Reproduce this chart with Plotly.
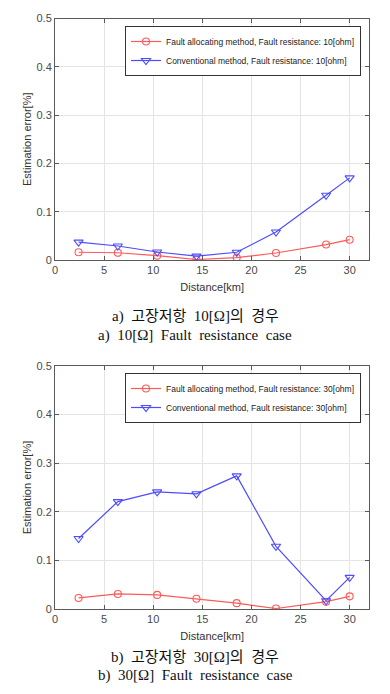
import plotly.graph_objects as go

distance = [2.4, 6.4, 10.4, 14.4, 18.5, 22.5, 27.6, 30.0]

fa_10 = [0.016, 0.015, 0.009, 0.001, 0.005, 0.0145, 0.032, 0.042]
conv_10 = [0.037, 0.029, 0.0166, 0.008, 0.016, 0.058, 0.134, 0.170]

fa_30 = [0.0227, 0.031, 0.029, 0.021, 0.012, 0.001, 0.015, 0.026]
conv_30 = [0.145, 0.221, 0.241, 0.237, 0.274, 0.129, 0.017, 0.065]

x_ticks = [0, 5, 10, 15, 20, 25, 30]
y_ticks = [0, 0.1, 0.2, 0.3, 0.4, 0.5]
y_tick_text = ["0", "0.1", "0.2", "0.3", "0.4", "0.5"]

names_10 = ["Fault allocating method, Fault resistance: 10[ohm]",
            "Conventional method, Fault resistance: 10[ohm]"]
names_30 = ["Fault allocating method, Fault resistance: 30[ohm]",
            "Conventional method, Fault resistance: 30[ohm]"]

captions = [
    ("a)  고장저항  10[Ω]의  경우", "a)  10[Ω]  Fault  resistance  case"),
    ("b)  고장저항  30[Ω]의  경우", "b)  30[Ω]  Fault  resistance  case"),
]

RED = "#ff5a5a"
BLUE = "#4d4dff"
# page body has an 8px margin; figure sized to fit inside the 390x694 window
OFF = 8
W, H = 374, 678

def px_x(p):
    return (p - OFF) / W

def px_y(p):
    return 1 - (p - OFF) / H

fig = go.Figure()

def add_pair(fa, conv, names, xa, ya, leg):
    fig.add_trace(go.Scatter(x=distance, y=fa, name=names[0], mode="lines+markers",
                             line=dict(color=RED, width=1.2),
                             marker=dict(symbol="circle-open", size=7, color=RED, line=dict(width=1.1)),
                             xaxis=xa, yaxis=ya, legend=leg))
    fig.add_trace(go.Scatter(x=distance, y=conv, name=names[1], mode="lines+markers",
                             line=dict(color=BLUE, width=1.2),
                             marker=dict(symbol="triangle-down-open", size=8, color=BLUE, line=dict(width=1.1)),
                             xaxis=xa, yaxis=ya, legend=leg))

add_pair(fa_10, conv_10, names_10, "x", "y", "legend")
add_pair(fa_30, conv_30, names_30, "x2", "y2", "legend2")

x_dom = [px_x(55), px_x(369.3)]
top_dom = [px_y(260), px_y(18.5)]
bot_dom = [px_y(609), px_y(366)]

axis_common = dict(
    showline=True, linecolor="#5a5a5a", linewidth=1, mirror="ticks",
    ticks="inside", ticklen=4, tickcolor="#5a5a5a",
    showgrid=True, gridcolor="#e4e4e4", gridwidth=1,
    zeroline=False, automargin=False,
    tickfont=dict(family="Liberation Sans, Arial", size=11, color="#4a4a4a"),
)

xcommon = dict(axis_common, range=[0, 32], tickvals=x_ticks, domain=x_dom,
               title=dict(text="Distance[km]", standoff=8,
                          font=dict(family="Liberation Sans, Arial", size=11, color="#333333")))
ycommon = dict(axis_common, range=[0, 0.5], tickvals=y_ticks, ticktext=y_tick_text,
               title=dict(text="Estimation error[%]", standoff=2,
                          font=dict(family="Liberation Sans, Arial", size=11, color="#333333")))

leg_font = dict(family="Liberation Sans, Arial", size=8.5, color="#222222")

fig.update_layout(
    width=W, height=H,
    margin=dict(l=0, r=0, t=0, b=0),
    paper_bgcolor="white", plot_bgcolor="white",
    xaxis=dict(xcommon, anchor="y"),
    yaxis=dict(ycommon, domain=top_dom, anchor="x"),
    xaxis2=dict(xcommon, anchor="y2"),
    yaxis2=dict(ycommon, domain=bot_dom, anchor="x2"),
    legend=dict(x=px_x(361), y=px_y(26), xanchor="right", yanchor="top",
                bgcolor="white", bordercolor="#333333", borderwidth=1,
                font=leg_font, itemwidth=30, tracegroupgap=0),
    legend2=dict(x=px_x(361), y=px_y(373), xanchor="right", yanchor="top",
                 bgcolor="white", bordercolor="#333333", borderwidth=1,
                 font=leg_font, itemwidth=30, tracegroupgap=0),
    showlegend=True,
)

cap_font = dict(family="Liberation Serif, Noto Sans CJK KR", size=15, color="#111111")
for (l1, l2), (y1, y2) in zip(captions, [(316, 336), (657, 675)]):
    fig.add_annotation(text=l1, x=0.5, y=px_y(y1), xref="paper", yref="paper",
                       showarrow=False, font=cap_font, xanchor="center", yanchor="middle")
    fig.add_annotation(text=l2, x=0.5, y=px_y(y2), xref="paper", yref="paper",
                       showarrow=False, font=cap_font, xanchor="center", yanchor="middle")

fig.write_html("out.html")
